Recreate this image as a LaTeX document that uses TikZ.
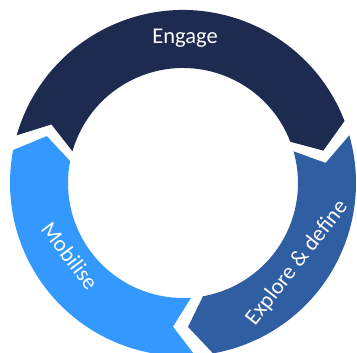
\documentclass[tikz,border=0pt]{standalone}
\usepackage{fontspec}
\setmainfont{Carlito}
\usetikzlibrary{positioning}
\definecolor{engagecol}{RGB}{29,43,81}
\definecolor{explorecol}{RGB}{48,94,163}
\definecolor{mobilisecol}{RGB}{51,153,255}
\tikzset{
    stagelabel/.style={
        text=white, inner sep=0pt,
        font=\fontsize{22.5}{26}\selectfont
    }
}
% ring segment with chevron head: tail angle, head angle, colour
\newcommand{\stagearrow}[3]{%
    \fill[#3] (#1:173) arc[start angle=#1, end angle=#2, radius=173]
        -- ({#2-8}:144) -- (#2:115)
        arc[start angle=#2, end angle=#1, radius=115]
        -- ({#1-8}:144) -- cycle;
}

\begin{document}
\begin{tikzpicture}[x=1pt, y=1pt]

\useasboundingbox (0,0) rectangle (357,353);
\clip (0,0) rectangle (357,353);

% Ring
\begin{scope}[shift={(183,170)}]
    \stagearrow{164}{21}{engagecol}
    \stagearrow{16}{-80}{explorecol}
    \stagearrow{274}{169}{mobilisecol}
\end{scope}

% Labels
\node[stagelabel, anchor=base] (engage) at (185,309) {Engage};
\node[stagelabel, rotate=52] (explore) at (297,90) {Explore \& define};
\node[stagelabel, rotate=-53] (mobilise) at (70,97) {Mobilise};

\end{tikzpicture}
\end{document}
